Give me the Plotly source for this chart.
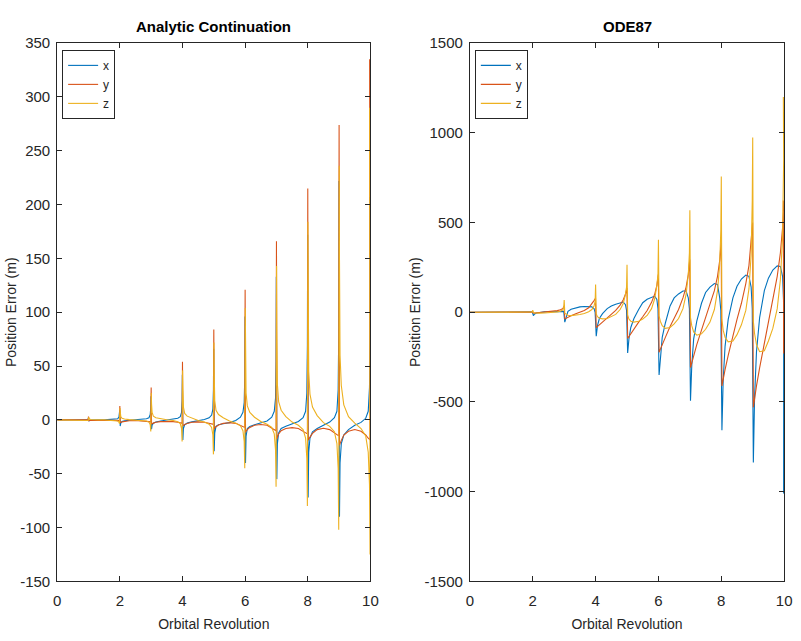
import plotly.graph_objects as go

# ---------------- data ----------------
REVS = [0, 1, 2, 3, 4, 5, 6, 7, 8, 9]
X_TICKS = [0, 2, 4, 6, 8, 10]
Y_TICKS_L = [-150, -100, -50, 0, 50, 100, 150, 200, 250, 300, 350]
Y_TICKS_R = [-1500, -1000, -500, 0, 500, 1000, 1500]

# sample positions inside each revolution (fraction of a revolution)
OFFS_L = [0.012, 0.03, 0.07, 0.15, 0.3, 0.5, 0.7, 0.85, 0.93, 0.97, 0.988]
OFFS_R = [0.02, 0.06, 0.12, 0.22, 0.37, 0.5, 0.64, 0.78, 0.88, 0.95, 0.985]

# ---- Analytic Continuation ----
# spike heights at the end of each revolution (1..10)
PEAK_X_L = [2, 9, 22, 42, 66, 96, 133, 172, 222, 207]
PEAK_Y_L = [3, 13, 30, 54, 84, 121, 166, 215, 274, 335]
PEAK_Z_L = [2.5, 11, 25, 46, 72, 104, 143, 184, 236, 290]

X_L = [
    [0, 0, 0, 0, 0, 0, 0, 0, 0, 0.3, 0.8],
    [-1.2, -0.5, -0.2, 0, 0, 0, 0.2, 0.5, 1, 2.5, 5],
    [-5.7, -3, -1.5, -0.8, -0.3, 0, 0.4, 1, 2, 5, 12],
    [-8.7, -5, -3, -2, -1, -0.3, 0.5, 1.5, 3, 7, 18],
    [-18.7, -8, -4.5, -3, -1.8, -0.8, 0.3, 2, 4.5, 10, 28],
    [-29, -12, -6, -4.5, -3.5, -2.5, -0.5, 2.5, 7, 16, 40],
    [-40, -15, -8, -6, -4.5, -3, -1, 2.5, 8, 20, 55],
    [-55, -22, -12, -8, -6, -4, -1.5, 2, 8, 25, 70],
    [-72, -30, -17, -11, -8, -5, -2, 2, 8, 28, 80],
    [-90, -40, -22, -14, -9, -5, -2.3, 1.5, 8, 30, 80],
]
Y_L = [
    [0, 0, 0, 0, 0, 0, 0, 0, 0, 0, 0],
    [-0.8, -0.6, -0.5, -0.4, -0.3, -0.3, -0.3, -0.4, -0.5, -0.6, -0.6],
    [-2.7, -2.3, -1.8, -1.3, -0.8, -0.6, -0.8, -1.2, -1.6, -1.8, -1.8],
    [-4, -3.5, -3, -2.2, -1.6, -1.4, -1.6, -2.2, -2.8, -3.2, -3.2],
    [-5.7, -5, -4.3, -3.3, -2.2, -1.8, -2.2, -3, -3.6, -4, -4],
    [-8.7, -7.5, -6.3, -4.8, -3.2, -2.7, -3.2, -5, -6.5, -7, -7],
    [-11.8, -10.5, -9, -7, -5, -4.2, -5, -7.5, -9.5, -10, -10],
    [-18, -16, -13, -10, -8, -7.2, -8, -10.5, -12.5, -13, -13],
    [-19, -18, -16, -12.5, -9, -7.8, -9, -12, -14, -14.8, -14.8],
    [-23.5, -22, -19, -14, -10.5, -9, -10.5, -14, -17, -18.5, -18.5],
]
Z_L = [
    [0, 0, 0, 0, 0, 0, 0, 0, 0, -0.2, -0.5],
    [1.5, 0.8, 0.4, 0.2, 0, 0, -0.2, -0.5, -1, -2, -3.5],
    [6, 3, 1.5, 0.8, 0.3, 0, -0.4, -1, -2, -4.5, -10.8],
    [15, 7, 3.5, 2, 1, 0.2, -0.6, -1.8, -3.5, -8, -20],
    [30, 12, 6, 3.5, 1.5, -0.5, -2, -4, -7, -14, -32],
    [45, 18, 9, 5, 2, -1, -3, -5.5, -10, -20, -45],
    [65, 25, 13, 7, 2.5, -1.5, -4, -7, -13, -28, -62],
    [85, 33, 17, 9, 3, -2, -5, -9, -17, -36, -80],
    [110, 45, 24, 12, 4, -2.5, -6, -11, -22, -45, -102],
    [150, 60, 32, 14, 3, -3, -8, -15, -30, -60, -125],
]

# ---- ODE87 ----
PEAK_Y_R = [0.5, 5, 35, 80, 135, 211, 294, 391, 500, 623]
PEAK_Z_R = [0, 12, 68, 155, 265, 404, 569, 757, 974, 1200]
END_X_R = -1010
END_Y_R = -230

X_R = [
    [0, 0, 0, 0, 0, 0, 0, 0, 0, 0, 0],
    [0, 0, 0, 0, 0, 0, 0, 0.5, 1, 1.5, 2],
    [-19, -10, -4, 0, 2, 3, 4, 6, 8, 8, 5],
    [-55, -25, 5, 17, 26, 30, 32, 33, 30, 20, 0],
    [-133, -75, -35, -8, 20, 35, 45, 54, 57, 42, 10],
    [-227, -150, -85, -35, 15, 53, 72, 85, 90, 71, 20],
    [-350, -240, -140, -60, 35, 80, 102, 118, 118, 80, 20],
    [-493, -300, -150, -50, 50, 110, 140, 160, 155, 80, 10],
    [-657, -380, -190, -40, 80, 145, 185, 207, 200, 140, 20],
    [-838, -470, -220, -30, 120, 190, 235, 258, 255, 200, 50],
]
Y_R = [
    [0, 0, 0, 0, 0, 0, 0, 0, 0, 0, 0],
    [0, 0, 0, 0, 0, 0, 0, 0, 0.5, 1, 1.5],
    [-5, -4, -3, -2, 0, 2, 5, 9, 14, 20, 28],
    [-37, -33, -28, -20, -8, 0, 10, 25, 45, 65, 75],
    [-86, -80, -70, -55, -30, -10, 10, 40, 70, 100, 125],
    [-146, -135, -120, -95, -55, -25, 10, 55, 100, 150, 195],
    [-223, -205, -180, -140, -80, -35, 15, 80, 140, 210, 275],
    [-308, -280, -240, -180, -100, -30, 40, 120, 200, 290, 370],
    [-411, -370, -320, -240, -130, -40, 50, 160, 260, 380, 470],
    [-530, -480, -410, -310, -170, -60, 60, 200, 330, 470, 590],
]
Z_R = [
    [0, 0, 0, 0, 0, 0, 0, 0, 0, 0, 0],
    [0, 0, 0, 0, 0, 0, 0, 0, 0, 0.5, 1],
    [-2, -4, -5, -5, -4, -3, -1, 2, 6, 12, 25],
    [-5, -12, -17, -19, -17, -13, -7, 3, 15, 35, 60],
    [-10, -25, -33, -37, -35, -25, -12, 15, 48, 100, 140],
    [-15, -38, -50, -55, -50, -38, -18, 20, 75, 150, 210],
    [-20, -50, -75, -90, -85, -65, -35, 20, 100, 210, 330],
    [-30, -75, -110, -128, -120, -95, -55, 15, 120, 270, 460],
    [-40, -100, -140, -165, -160, -125, -70, 10, 130, 320, 620],
    [-50, -120, -180, -220, -215, -160, -90, 20, 180, 420, 850],
]

COLORS = {"x": "#0072BD", "y": "#D95319", "z": "#EDB120"}
FONT = "Liberation Sans, Arial, sans-serif"
LAST = 9.975  # last sample sits just inside the right axis edge


def build(table, offs, peaks=None, shift=0.0, end=None):
    xs, ys = [0.0], [0.0]
    for k in REVS:
        for off, v in zip(offs, table[k]):
            xs.append(k + off)
            ys.append(v)
        if peaks is not None:
            xs.append(min(k + 1 + shift, LAST))
            ys.append(peaks[k])
    if end is not None:
        xs.append(LAST + 0.008)
        ys.append(end)
    return xs, ys


series_L = [
    ("x", build(X_L, OFFS_L, PEAK_X_L, -0.004)),
    ("y", build(Y_L, OFFS_L, PEAK_Y_L, 0.0)),
    ("z", build(Z_L, OFFS_L, PEAK_Z_L, 0.004)),
]
series_R = [
    ("x", build(X_R, OFFS_R, None, 0.0, END_X_R)),
    ("y", build(Y_R, OFFS_R, PEAK_Y_R, -0.003, END_Y_R)),
    ("z", build(Z_R, OFFS_R, PEAK_Z_R, 0.0)),
]

fig = go.Figure()
for name, (xs, ys) in series_L:
    fig.add_trace(go.Scatter(x=xs, y=ys, mode="lines", name=name,
                             line=dict(color=COLORS[name], width=1.1),
                             xaxis="x", yaxis="y", legend="legend"))
for name, (xs, ys) in series_R:
    fig.add_trace(go.Scatter(x=xs, y=ys, mode="lines", name=name,
                             line=dict(color=COLORS[name], width=1.1),
                             xaxis="x2", yaxis="y2", legend="legend2"))

W, H = 801, 641
YDOM = [(H - 588) / H, (H - 35) / H]
XDOM_L = [54 / W, 372 / W]
XDOM_R = [473 / W, 792 / W]

axis_common = dict(showline=True, linecolor="#262626", linewidth=1, mirror="ticks",
                   ticks="inside", ticklen=5, tickcolor="#262626", showgrid=False,
                   zeroline=False, tickfont=dict(family=FONT, size=15, color="#262626"))
xtitle = dict(text="Orbital Revolution", font=dict(size=14, family=FONT), standoff=10)
ytitle = dict(text="Position Error (m)", font=dict(size=14, family=FONT), standoff=0)

xt = [str(v) for v in X_TICKS]
fig.update_layout(
    width=W, height=H, margin=dict(l=0, r=0, t=0, b=0),
    paper_bgcolor="white", plot_bgcolor="white",
    font=dict(family=FONT, color="#262626"),
    xaxis=dict(domain=XDOM_L, range=[0, 10], tickvals=X_TICKS, ticktext=xt,
               title=xtitle, anchor="y", ticklabelstandoff=6, **axis_common),
    yaxis=dict(domain=YDOM, range=[-150, 350], tickvals=Y_TICKS_L,
               ticktext=[str(v) for v in Y_TICKS_L],
               title=ytitle, anchor="x", ticklabelstandoff=3, **axis_common),
    xaxis2=dict(domain=XDOM_R, range=[0, 10], tickvals=X_TICKS, ticktext=xt,
                title=xtitle, anchor="y2", ticklabelstandoff=6, **axis_common),
    yaxis2=dict(domain=YDOM, range=[-1500, 1500], tickvals=Y_TICKS_R,
                ticktext=[str(v) for v in Y_TICKS_R],
                title=ytitle, anchor="x2", ticklabelstandoff=3, **axis_common),
    legend=dict(x=59 / W, y=(H - 42) / H, xanchor="left", yanchor="top",
                bordercolor="#262626", borderwidth=1, bgcolor="white",
                font=dict(size=12, family=FONT), itemwidth=30, tracegroupgap=0),
    legend2=dict(x=478 / W, y=(H - 42) / H, xanchor="left", yanchor="top",
                 bordercolor="#262626", borderwidth=1, bgcolor="white",
                 font=dict(size=12, family=FONT), itemwidth=30, tracegroupgap=0),
    showlegend=True,
    annotations=[
        dict(text="<b>Analytic Continuation</b>", x=(XDOM_L[0] + XDOM_L[1]) / 2,
             y=(H - 18) / H, xref="paper", yref="paper", showarrow=False,
             xanchor="center", yanchor="middle",
             font=dict(size=15, family=FONT, color="black")),
        dict(text="<b>ODE87</b>", x=(XDOM_R[0] + XDOM_R[1]) / 2,
             y=(H - 18) / H, xref="paper", yref="paper", showarrow=False,
             xanchor="center", yanchor="middle",
             font=dict(size=15, family=FONT, color="black")),
    ],
)

fig.write_html("out.html")
